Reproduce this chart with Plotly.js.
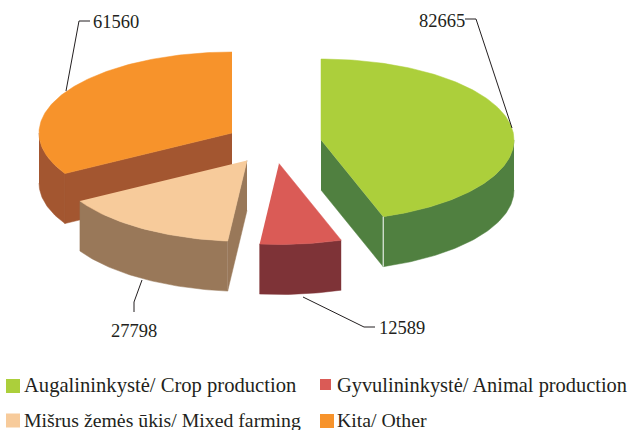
<!DOCTYPE html>
<html><head><meta charset="utf-8">
<script src="https://cdn.plot.ly/plotly-3.0.1.min.js"></script>
<style>html,body{margin:0;padding:0;background:#fff}</style>
</head><body><div id="chart" style="width:629px;height:430px"></div>
<script>
const categories = ["Augalininkystė/ Crop production","Gyvulininkystė/ Animal production","Mišrus žemės ūkis/ Mixed farming","Kita/ Other"];
const values = [82665,12589,27798,61560];
const topColors = ["#accf3b","#da5b56","#f7cb9b","#f7932b"];
const sideColors = ["#508040","#7e3337","#997859","#a35630"];
const centerX = [321,279,247,232];
const centerY = [140,163.5,160.5,133];
const legendX = [13,325.5,13,327];
const legendY = [386,384.5,420.5,421];
const legendSize = [14,11,14,14];
const legendTextX = [22.5,336,22.5,336];
const legendTextY = [385,385,419.5,419.5];
const legendFont = [20.6,20.4,19.8,19.8];
const leaders = [
  {x:[465,476,512],y:[19,19,128],text:"82665",tx:464.5,ty:21,anchor:"right"},
  {x:[303,364,375],y:[297,327,327],text:"12589",tx:379,ty:328,anchor:"left"},
  {x:[142,134,134],y:[280,302,312],text:"27798",tx:111,ty:331,anchor:"left"},
  {x:[66,79,90],y:[91,21,21],text:"61560",tx:93,ty:22,anchor:"left"}
];
const RX=193, RY=81, DEPTH=50, FONT="Liberation Serif, Times New Roman, serif", TEXT="#231f20";

const total = values.reduce((a,b)=>a+b,0);
let cum=0;
const spans = values.map(v=>{const s=cum/total*360; cum+=v; return [s,cum/total*360];});
const rad=d=>d*Math.PI/180;
const pt=(i,a,dz=0)=>[centerX[i]+RX*Math.sin(rad(a)), centerY[i]-RY*Math.cos(rad(a))+dz];
function arc(i,a0,a1,dz=0){const out=[];const n=Math.max(2,Math.ceil(Math.abs(a1-a0)));for(let k=0;k<=n;k++)out.push(pt(i,a0+(a1-a0)*k/n,dz));return out;}
function poly(pts,color,name){return {type:"scatter",mode:"lines",x:pts.map(p=>p[0]),y:pts.map(p=>p[1]),fill:"toself",fillcolor:color,line:{width:0.5,color:color},hoverinfo:"skip",showlegend:false,name:name||""};}
const apex=(i,dz=0)=>[centerX[i],centerY[i]+dz];

const traces=[];
function outerSide(i,a0,a1){const top=arc(i,a0,a1,0),bot=arc(i,a1,a0,DEPTH);traces.push(poly(top.concat(bot),sideColors[i]));}
function radialSide(i,a){const e=pt(i,a),f=pt(i,a,DEPTH);traces.push(poly([apex(i),e,f,apex(i,DEPTH)],sideColors[i]));}
function topFace(i){const [a0,a1]=spans[i];traces.push(poly([apex(i)].concat(arc(i,a0,a1)),topColors[i],categories[i]));}

// back to front: Other, Mixed, Animal, Crop
outerSide(3,270,spans[3][0]); radialSide(3,spans[3][0]); topFace(3);
outerSide(2,spans[2][0],spans[2][1]); radialSide(2,spans[2][0]); topFace(2);
outerSide(1,spans[1][0],spans[1][1]); topFace(1);
radialSide(0,spans[0][1]); outerSide(0,90,spans[0][1]); topFace(0);
// thin white highlight on the crop wedge's front edge
{const e=pt(0,spans[0][1]),f=pt(0,spans[0][1],DEPTH);
 traces.push({type:"scatter",mode:"lines",x:[e[0],f[0]],y:[e[1],f[1]],line:{color:"#ffffff",width:1},hoverinfo:"skip",showlegend:false});}

leaders.forEach(l=>traces.push({type:"scatter",mode:"lines",x:l.x,y:l.y,line:{color:TEXT,width:1},hoverinfo:"skip",showlegend:false}));
categories.forEach((c,i)=>traces.push({type:"scatter",mode:"markers",x:[legendX[i]],y:[legendY[i]],marker:{symbol:"square",size:legendSize[i],color:topColors[i],line:{width:0}},hoverinfo:"skip",showlegend:false}));

const annotations=[];
leaders.forEach(l=>annotations.push({x:l.tx,y:l.ty,xref:"x",yref:"y",text:l.text,showarrow:false,xanchor:l.anchor,yanchor:"middle",font:{family:FONT,size:18.5,color:TEXT},borderpad:0,borderwidth:0}));
categories.forEach((c,i)=>annotations.push({x:legendTextX[i],y:legendTextY[i],xref:"x",yref:"y",text:c,showarrow:false,xanchor:"left",yanchor:"middle",font:{family:FONT,size:legendFont[i],color:TEXT},borderpad:0}));

const ax={visible:false,fixedrange:true,showgrid:false,zeroline:false};
Plotly.newPlot("chart",traces,{
  width:629,height:430,margin:{l:0,r:0,t:0,b:0},paper_bgcolor:"#fff",plot_bgcolor:"#fff",showlegend:false,
  xaxis:Object.assign({range:[0,629]},ax),
  yaxis:Object.assign({range:[430,0]},ax),
  annotations
},{displayModeBar:false,staticPlot:true});
</script></body></html>
